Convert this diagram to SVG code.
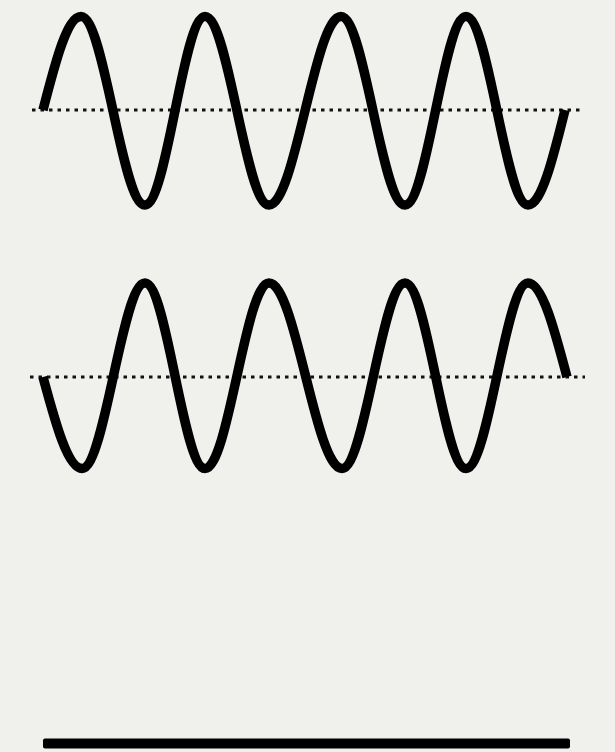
<svg xmlns="http://www.w3.org/2000/svg" width="615" height="752" viewBox="0 0 615 752">
<style>
.wave{fill:none;stroke:#000;stroke-width:9.5;stroke-linecap:butt;stroke-linejoin:round}
.axis{fill:none;stroke:#111;stroke-width:3;stroke-dasharray:3.5 5}
</style>
<rect width="615" height="752" fill="#f0f0ec"/>
<g id="wave-top">
<line class="axis" x1="32" y1="110" x2="584" y2="110"/>
<path class="wave" d="M43,110 C55.4,61.8 67.2,16.5 81,16.5 C104.3,16.5 121.7,205 145,205 C166.8,205 183.2,16.5 205,16.5 C228.3,16.5 245.7,205 269,205 C295.2,205 314.8,16.5 341,16.5 C364.3,16.5 381.7,205 405,205 C427.2,205 443.8,16.5 466,16.5 C488.6,16.5 505.4,205 528,205 C541.4,205 552.9,158.7 565,110"/>
</g>
<g id="wave-bottom">
<line class="axis" x1="30" y1="377" x2="585" y2="377"/>
<path class="wave" d="M43,377 C55.7,424.1 67.9,468.5 82,468.5 C104.9,468.5 122.1,283 145,283 C166.8,283 183.2,468.5 205,468.5 C228.3,468.5 245.7,283 269,283 C295.6,283 315.4,468.5 342,468.5 C364.9,468.5 382.1,283 405,283 C427.2,283 443.8,468.5 466,468.5 C488.6,468.5 505.4,283 528,283 C542.1,283 554.3,328.8 567,377"/>
</g>
<g id="sum-line">
<rect x="43" y="738.5" width="527" height="10" rx="2" fill="#000"/>
</g>
</svg>
